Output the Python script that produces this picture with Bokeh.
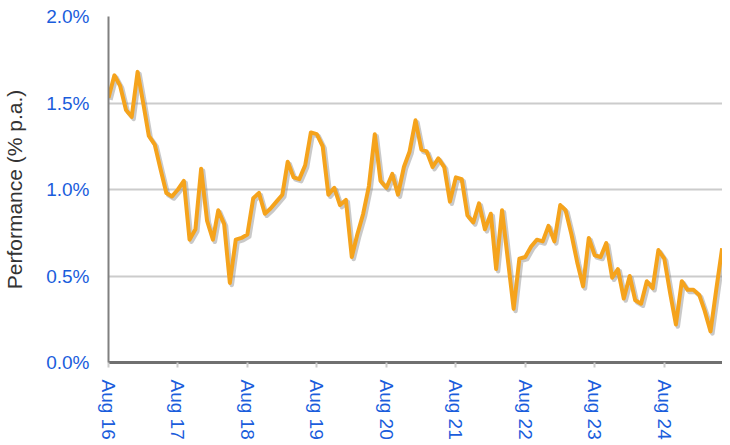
import pandas as pd
from bokeh.plotting import figure
from bokeh.models import Range1d, FixedTicker, DatetimeTickFormatter, PrintfTickFormatter, ColumnDataSource
from bokeh.embed import file_html
from bokeh.resources import INLINE

# Monthly performance (% p.a.), Aug 2016 .. Jun 2025
start_month = "2016-08-01"
performance = [
    1.53, 1.66, 1.60, 1.46, 1.42, 1.68, 1.49, 1.31, 1.26, 1.12, 0.98, 0.96,
    1.00, 1.05, 0.71, 0.77, 1.12, 0.82, 0.71, 0.88, 0.80, 0.46, 0.71, 0.72,
    0.74, 0.95, 0.98, 0.86, 0.89, 0.93, 0.97, 1.16, 1.07, 1.06, 1.14, 1.33,
    1.32, 1.25, 0.97, 1.01, 0.91, 0.94, 0.61, 0.74, 0.86, 1.02, 1.32, 1.05,
    1.01, 1.09, 0.97, 1.13, 1.22, 1.40, 1.23, 1.22, 1.13, 1.18, 1.13, 0.93,
    1.07, 1.06, 0.85, 0.81, 0.92, 0.77, 0.86, 0.54, 0.88, 0.60, 0.31, 0.60,
    0.61, 0.67, 0.71, 0.70, 0.79, 0.70, 0.91, 0.88, 0.74, 0.58, 0.44, 0.72,
    0.62, 0.61, 0.69, 0.49, 0.54, 0.37, 0.50, 0.36, 0.34, 0.47, 0.43, 0.65,
    0.60, 0.40, 0.22, 0.47, 0.42, 0.42, 0.39, 0.30, 0.18, 0.42, 0.66,
]
tick_labels = ["Aug 16", "Aug 17", "Aug 18", "Aug 19", "Aug 20",
               "Aug 21", "Aug 22", "Aug 23", "Aug 24", "Aug 25"]
y_ticks = [0.0, 0.5, 1.0, 1.5, 2.0]

dates = pd.date_range(start_month, periods=len(performance), freq="MS")
tick_dates = pd.date_range(start_month, periods=len(tick_labels), freq="12MS")

src = ColumnDataSource(dict(x=dates, y=performance))
shadow = ColumnDataSource(dict(x=dates + pd.Timedelta(days=10),
                               y=[v - 0.012 for v in performance]))

blue = "#1a5ddc"

p = figure(width=722, height=442, x_axis_type="datetime",
           output_backend="svg", toolbar_location=None,
           min_border_left=102, min_border_right=0,
           min_border_top=16, min_border_bottom=80)
# visible window ends a little before Aug 25 (as in the original, which is cut off)
p.x_range = Range1d(tick_dates[0], tick_dates[0] + pd.Timedelta(days=int(365.25 * 8.84)))
p.y_range = Range1d(0, 2.0)
p.outline_line_color = None
p.background_fill_color = "white"
p.border_fill_color = "white"

p.line("x", "y", source=shadow, line_color="#888888", line_alpha=0.45,
       line_width=4.5, line_join="round")
p.line("x", "y", source=src, line_color="#f5a31c", line_width=4,
       line_join="round")

# grid
p.xgrid.grid_line_color = None
p.ygrid.ticker = FixedTicker(ticks=y_ticks)
p.ygrid.grid_line_color = "#cccccc"
p.ygrid.grid_line_width = 2

# y axis
ya = p.yaxis[0]
ya.ticker = FixedTicker(ticks=y_ticks)
ya.formatter = PrintfTickFormatter(format="%.1f%%")
ya.major_tick_out = 0
ya.major_tick_in = 0
ya.minor_tick_out = 0
ya.minor_tick_in = 0
ya.axis_line_color = "#808080"
ya.axis_line_width = 2
ya.major_label_text_color = blue
ya.major_label_text_font = "Liberation Sans"
ya.major_label_text_font_size = "19px"
ya.major_label_standoff = 19
ya.axis_label = "Performance (% p.a.)"
ya.axis_label_text_font = "Liberation Sans"
ya.axis_label_text_font_style = "normal"
ya.axis_label_text_font_size = "21px"
ya.axis_label_text_color = "#333333"
ya.axis_label_standoff = 17

# x axis
xa = p.xaxis[0]
xa.ticker = FixedTicker(ticks=[d.value // 10**6 for d in tick_dates])
fmt = "%b %y"
xa.formatter = DatetimeTickFormatter(milliseconds=fmt, seconds=fmt, minsec=fmt,
                                     minutes=fmt, hourmin=fmt, hours=fmt,
                                     days=fmt, months=fmt, years=fmt)
xa.major_label_orientation = "vertical"
xa.major_tick_out = 5
xa.major_tick_in = 0
xa.minor_tick_out = 0
xa.minor_tick_in = 0
xa.major_tick_line_color = "#cccccc"
xa.major_tick_line_width = 2
xa.axis_line_color = "#707070"
xa.axis_line_width = 3
xa.major_label_text_color = blue
xa.major_label_text_font = "Liberation Sans"
xa.major_label_text_font_size = "19px"
xa.major_label_standoff = 12

open("out.html", "w").write(file_html(p, INLINE))
